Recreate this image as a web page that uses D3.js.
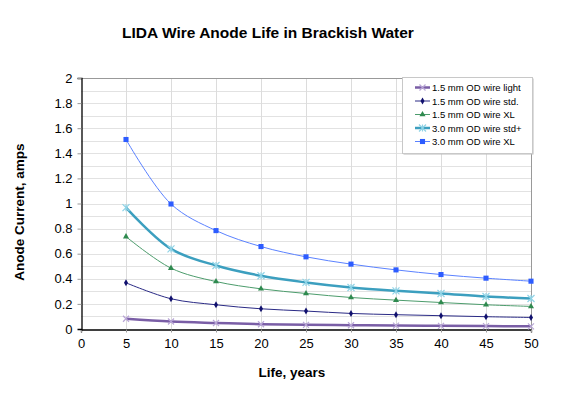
<!DOCTYPE html>
<html>
<head>
<meta charset="utf-8">
<script src="https://cdn.jsdelivr.net/npm/d3@7"></script>
<style>
  body { margin: 0; background: #fff; }
  text { font-family: "Liberation Sans", Arial, sans-serif; }
</style>
</head>
<body>
<svg width="561" height="396"></svg>
<script>
// years on the x axis
var years = [5, 10, 15, 20, 25, 30, 35, 40, 45, 50];

// anode current per wire type, amps
var wireLight = [0.082, 0.060, 0.048, 0.038, 0.033, 0.030, 0.027, 0.025, 0.023, 0.021];
var wireStd   = [0.368, 0.241, 0.193, 0.161, 0.143, 0.124, 0.114, 0.106, 0.098, 0.092];
var wireXL15  = [0.736, 0.485, 0.378, 0.320, 0.283, 0.251, 0.230, 0.211, 0.193, 0.180];
var wireStdP  = [0.967, 0.638, 0.506, 0.424, 0.371, 0.331, 0.304, 0.283, 0.259, 0.243];
var wireXL30  = [1.510, 0.996, 0.784, 0.657, 0.575, 0.517, 0.471, 0.434, 0.405, 0.381];

var seriesNames = ["1.5 mm OD wire light", "1.5 mm OD wire std.", "1.5 mm OD wire XL",
                   "3.0 mm OD wire std+", "3.0 mm OD wire XL"];

var xTicks = [0, 5, 10, 15, 20, 25, 30, 35, 40, 45, 50];
var yTicks = [0, 0.2, 0.4, 0.6, 0.8, 1, 1.2, 1.4, 1.6, 1.8, 2];

// styles for each series, same order as names
var styles = [
  { line: "#7a5ea6", width: 2.5, marker: "x", mcolor: "#b9a6d6" },
  { line: "#2a2a85", width: 1, marker: "diamond", mcolor: "#10106e" },
  { line: "#4c9c6c", width: 1, marker: "triangle", mcolor: "#2f8a4f" },
  { line: "#3c9fbf", width: 2.5, marker: "star", mcolor: "#8fd3e6" },
  { line: "#5b82ff", width: 1, marker: "square", mcolor: "#2d5cff" }
];

var allValues = [wireLight, wireStd, wireXL15, wireStdP, wireXL30];
var series = seriesNames.map(function(name, i) {
  return { name: name, style: styles[i],
    values: years.map(function(y, j) { return { x: y, y: allValues[i][j] }; }) };
});

var svg = d3.select('svg');
var margin = { left: 81, right: 30, top: 78, bottom: 67 };
var w = 561 - margin.left - margin.right,
    h = 396 - margin.top - margin.bottom;

var x = d3.scaleLinear().domain([0, 50]).range([margin.left, margin.left + w]);
var y = d3.scaleLinear().domain([0, 2]).range([margin.top + h, margin.top]);

// horizontal gridlines every 0.1
var minor = d3.range(1, 20).map(function(d) { return d / 10; });
svg.append('g').selectAll('line')
  .data(minor)
  .enter().append('line')
  .attr('x1', x(0)).attr('x2', x(50))
  .attr('y1', function(d) { return Math.round(y(d)) + 0.5; })
  .attr('y2', function(d) { return Math.round(y(d)) + 0.5; })
  .attr('stroke', '#e2e2e2')
  .attr('stroke-width', 1);

// vertical gridlines
svg.append('g').selectAll('line')
  .data(xTicks.slice(1, -1))
  .enter().append('line')
  .attr('x1', function(d) { return Math.round(x(d)) + 0.5; })
  .attr('x2', function(d) { return Math.round(x(d)) + 0.5; })
  .attr('y1', y(0)).attr('y2', y(2))
  .attr('stroke', '#dcdcdc');

// top and right border
svg.append('path')
  .attr('d', 'M' + x(0) + ',' + (Math.round(y(2)) + 0.5) + 'H' + (Math.round(x(50)) + 0.5) + 'V' + y(0))
  .attr('fill', 'none')
  .attr('stroke', '#999');

// axes
var xAxis = d3.axisBottom(x).tickValues(xTicks).tickSize(3).tickPadding(6);
var yAxis = d3.axisLeft(y).tickValues(yTicks).tickSize(4).tickPadding(5)
  .tickFormat(function(d) { return d3.format('')(d); });

var gx = svg.append('g')
  .attr('transform', 'translate(0,' + (Math.round(y(0)) + 0.5) + ')')
  .call(xAxis);
var gy = svg.append('g')
  .attr('transform', 'translate(' + (Math.round(x(0)) + 0.5) + ',0)')
  .call(yAxis);

[gx, gy].forEach(function(g) {
  g.select('.domain').attr('stroke', '#000').attr('stroke-width', 1.3);
  g.selectAll('.tick line').attr('stroke', '#999');
  g.selectAll('text').attr('font-size', 13).attr('fill', '#000')
    .attr('font-family', '"Liberation Sans", Arial, sans-serif');
});
gy.select('.tick line').attr('stroke', 'none');

// lines
var line = d3.line()
  .x(function(d) { return x(d.x); })
  .y(function(d) { return y(d.y); })
  .curve(d3.curveCatmullRom.alpha(0.5));

function drawMarker(g, type, color, cx, cy) {
  if (type === 'x') {
    g.append('path')
      .attr('d', 'M' + (cx - 3) + ',' + (cy - 3) + 'L' + (cx + 3) + ',' + (cy + 3) +
        'M' + (cx - 3) + ',' + (cy + 3) + 'L' + (cx + 3) + ',' + (cy - 3))
      .attr('stroke', color).attr('stroke-width', 1.2);
  } else if (type === 'star') {
    g.append('path')
      .attr('d', 'M' + (cx - 3.5) + ',' + (cy - 3.5) + 'L' + (cx + 3.5) + ',' + (cy + 3.5) +
        'M' + (cx - 3.5) + ',' + (cy + 3.5) + 'L' + (cx + 3.5) + ',' + (cy - 3.5) +
        'M' + cx + ',' + (cy - 3.5) + 'V' + (cy + 3.5))
      .attr('stroke', color).attr('stroke-width', 1.2);
  } else {
    var sym = { diamond: d3.symbolDiamond, triangle: d3.symbolTriangle, square: d3.symbolSquare }[type];
    var size = { diamond: 14, triangle: 16, square: 26 }[type];
    g.append('path')
      .attr('d', d3.symbol().type(sym).size(size)())
      .attr('transform', 'translate(' + cx + ',' + cy + ')')
      .attr('fill', color);
  }
}

series.forEach(function(s) {
  var g = svg.append('g');
  g.append('path')
    .datum(s.values)
    .attr('d', line)
    .attr('fill', 'none')
    .attr('stroke', s.style.line)
    .attr('stroke-width', s.style.width);
  s.values.forEach(function(d) {
    drawMarker(g, s.style.marker, s.style.mcolor, x(d.x), y(d.y));
  });
});

// legend
var lg = svg.append('g').attr('transform', 'translate(402,77)');
lg.append('rect')
  .attr('x', 1.5).attr('y', 1.5).attr('width', 130).attr('height', 76)
  .attr('fill', '#bbb');
lg.append('rect')
  .attr('x', 0.5).attr('y', 0.5).attr('width', 130).attr('height', 76)
  .attr('fill', '#fff').attr('stroke', '#c8c8c8');
series.forEach(function(s, i) {
  var yy = 10.5 + i * 13.5;
  lg.append('line')
    .attr('x1', 13).attr('x2', 28).attr('y1', yy).attr('y2', yy)
    .attr('stroke', s.style.line).attr('stroke-width', s.style.width);
  drawMarker(lg, s.style.marker, s.style.mcolor, 20.5, yy);
  lg.append('text')
    .attr('x', 30).attr('y', yy + 3.5)
    .attr('font-size', 9.5)
    .text(s.name);
});

// titles
svg.append('text')
  .attr('x', 268).attr('y', 38)
  .attr('text-anchor', 'middle')
  .attr('font-size', 15.5).attr('font-weight', 'bold')
  .text('LIDA Wire Anode Life in Brackish Water');

svg.append('text')
  .attr('x', 292).attr('y', 377)
  .attr('text-anchor', 'middle')
  .attr('font-size', 13.5).attr('font-weight', 'bold')
  .text('Life, years');

svg.append('text')
  .attr('transform', 'translate(24,212) rotate(-90)')
  .attr('text-anchor', 'middle')
  .attr('font-size', 13.5).attr('font-weight', 'bold')
  .text('Anode Current, amps');
</script>
</body>
</html>
